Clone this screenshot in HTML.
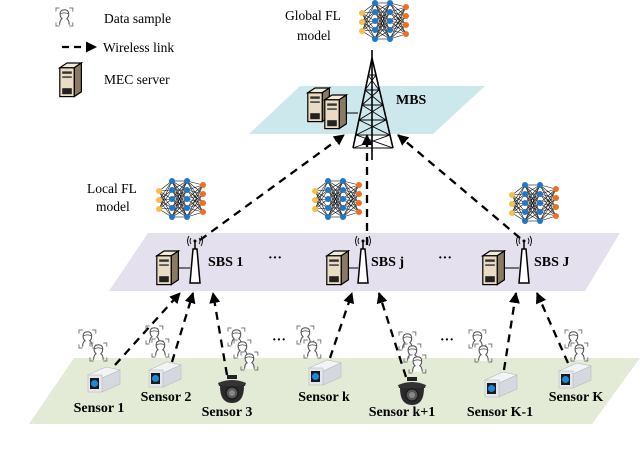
<!DOCTYPE html>
<html><head><meta charset="utf-8"><style>
html,body{margin:0;padding:0;background:#fff}
svg{display:block}
text{font-family:"Liberation Serif",serif}
.b{font-weight:bold;font-size:14px}
.r{font-size:13.5px}
</style></head><body>
<svg width="640" height="459" viewBox="0 0 640 459" xmlns="http://www.w3.org/2000/svg">
<defs>
<marker id="ah" markerWidth="11" markerHeight="11" refX="10" refY="5.5" orient="auto" markerUnits="userSpaceOnUse">
<path d="M0,0 L11,5.5 L0,11 Z" fill="#000"/>
</marker>
<g id="nn">
<g id="nnl" stroke="#111" stroke-width="0.6"></g>
<g id="nnn"></g>
</g>
<g id="srv0">
<path d="M4,4 L10,0 L22,0 L16,4 Z" fill="#f3ead8" stroke="#000" stroke-width="1"/>
<path d="M16,4 L22,0 L22,24 L16,28 Z" fill="#8a7a62" stroke="#000" stroke-width="1"/>
<rect x="4" y="4" width="12" height="24" fill="#e9dcc2" stroke="#000" stroke-width="1"/>
<rect x="6" y="7" width="8" height="2" fill="#333"/>
<rect x="6" y="11" width="8" height="1.5" fill="#555"/>
<rect x="6" y="21" width="8" height="5" fill="#222"/>
</g>
<g id="srv"><use href="#srv0" transform="scale(1.2)"/></g>
<g id="ant">
<path d="M5,12 L9,12 L12,46 L2,46 Z" fill="#fff" stroke="#000" stroke-width="1.5"/>
<line x1="7" y1="4" x2="7" y2="12" stroke="#000" stroke-width="1.5"/>
<circle cx="7" cy="4" r="1.5" fill="#000"/>
<path d="M3,1 Q1,4 3,7 M11,1 Q13,4 11,7 M1,-1 Q-2,4 1,9 M13,-1 Q16,4 13,9" fill="none" stroke="#000" stroke-width="0.9"/>
</g>
<g id="face0">
<path d="M0,3 V0 H3 M11,0 H14 V3 M14,12 V15 H11 M3,15 H0 V12" fill="none" stroke="#777" stroke-width="0.8"/>
<path d="M3,14 Q3,10 5,9 Q3,7 3.5,4 Q4,1.5 7,1.5 Q10,1.5 10.5,4 Q11,7 9,9 Q11,10 11,14" fill="#fff" stroke="#555" stroke-width="0.9"/>
<path d="M3.5,5 Q7,3 10.5,5" fill="none" stroke="#555" stroke-width="0.8"/>
</g>
<g id="face"><use href="#face0" transform="scale(1.2)"/></g>
<g id="box">
<path d="M0,8 L18,0 L32,3 L14,11 Z" fill="#f2f4f7" stroke="#bbb" stroke-width="0.6"/>
<path d="M14,11 L32,3 L32,17 L14,25 Z" fill="#d4d8df" stroke="#bbb" stroke-width="0.6"/>
<rect x="0" y="8" width="14" height="17" fill="#e4e7ec" stroke="#bbb" stroke-width="0.6"/>
<rect x="2" y="11" width="9" height="11" fill="#1a1a1a"/>
<circle cx="6.5" cy="16.5" r="3.5" fill="#1e88d8"/>
</g>
<g id="dome">
<rect x="10" y="0" width="10" height="4" fill="#222"/>
<path d="M1,8 Q15,2 29,8 L28,11 L2,11 Z" fill="#333"/>
<path d="M3,11 Q3,28 15,28 Q27,28 27,11 Z" fill="#2a2a2a"/>
<circle cx="15" cy="18" r="6" fill="#555" stroke="#111"/>
<circle cx="15" cy="18" r="3" fill="#888"/>
</g>
</defs>

<polygon points="300,86 485,86 433,134 249,134" fill="#cde8ec"/>
<polygon points="148,233 620,233 585,291 109,291" fill="#e5e0ee"/>
<polygon points="74,358 640,358 592,424 29,424" fill="#e3ead5"/>

<use href="#face" x="56" y="8"/>
<text class="r" x="104" y="23">Data sample</text>
<line x1="62" y1="47" x2="96" y2="47" stroke="#000" stroke-width="2.2" stroke-dasharray="7,5" marker-end="url(#ah)"/>
<text class="r" x="103" y="52">Wireless link</text>
<use href="#srv" x="55" y="63"/>
<text class="r" x="104" y="84">MEC server</text>

<text class="r" x="285" y="20">Global FL</text>
<text class="r" x="297" y="40">model</text>
<use href="#nn" x="358" y="0"/>

<g stroke="#000" stroke-width="1.6" fill="none">
<line x1="372" y1="50" x2="372" y2="160"/>
<line x1="372" y1="58" x2="353" y2="148"/>
<line x1="372" y1="58" x2="393" y2="148"/>
<path d="M368,75 L376,75 M365,90 L379,90 M362,105 L383,105 M359,120 L386,120 M356,135 L390,135 M353,148 L393,148" stroke-width="1"/>
<path d="M368,75 L379,90 L362,105 L386,120 L356,135 M376,75 L365,90 L383,105 L359,120 L390,135" stroke-width="0.9"/>
<path d="M356,135 L393,148 M390,135 L353,148" stroke-width="0.9"/>
</g>
<use href="#srv" x="303" y="88"/>
<use href="#srv" x="320" y="95"/>
<line x1="346" y1="113" x2="358" y2="113" stroke="#000"/>
<text class="b" x="396" y="104">MBS</text>

<text class="r" x="87" y="193">Local FL</text>
<text class="r" x="96" y="211">model</text>
<use href="#nn" x="155" y="178"/>
<use href="#nn" x="311" y="178"/>
<use href="#nn" x="508" y="182"/>

<g stroke="#000" stroke-width="2.3" stroke-dasharray="8,6" marker-end="url(#ah)" fill="none">
<line x1="200" y1="240" x2="344" y2="135"/>
<line x1="367" y1="245" x2="367" y2="135"/>
<line x1="520" y1="238" x2="398" y2="135"/>
</g>

<use href="#srv" x="152" y="251"/>
<line x1="178" y1="268" x2="190" y2="268" stroke="#000"/>
<use href="#ant" x="188" y="237"/>
<text class="b" x="208" y="266">SBS 1</text>
<text class="b" x="268" y="262">···</text>
<use href="#srv" x="322" y="251"/>
<line x1="348" y1="268" x2="358" y2="268" stroke="#000"/>
<use href="#ant" x="356" y="237"/>
<text class="b" x="371" y="266">SBS j</text>
<text class="b" x="438" y="262">···</text>
<use href="#srv" x="478" y="251"/>
<line x1="504" y1="268" x2="519" y2="268" stroke="#000"/>
<use href="#ant" x="517" y="237"/>
<text class="b" x="534" y="266">SBS J</text>

<g stroke="#000" stroke-width="2.3" stroke-dasharray="8,6" marker-end="url(#ah)" fill="none">
<line x1="115" y1="365" x2="180" y2="293"/>
<line x1="172" y1="362" x2="193" y2="293"/>
<line x1="227" y1="375" x2="213" y2="293"/>
<line x1="330" y1="358" x2="352" y2="293"/>
<line x1="406" y1="377" x2="379" y2="293"/>
<line x1="504" y1="370" x2="516" y2="293"/>
<line x1="568" y1="363" x2="537" y2="293"/>
</g>

<use href="#face" x="79" y="330"/><use href="#face" x="90" y="343"/>
<use href="#face" x="146" y="326"/><use href="#face" x="152" y="339"/>
<use href="#face" x="228" y="328"/><use href="#face" x="234" y="340"/><use href="#face" x="241" y="352"/>
<use href="#face" x="297" y="326"/><use href="#face" x="304" y="340"/>
<use href="#face" x="399" y="332"/><use href="#face" x="404" y="344"/><use href="#face" x="409" y="355"/>
<use href="#face" x="469" y="330"/><use href="#face" x="475" y="344"/>
<use href="#face" x="565" y="330"/><use href="#face" x="571" y="343"/>
<text class="b" x="272" y="344">···</text>
<text class="b" x="440" y="344">···</text>

<use href="#box" x="88" y="367"/>
<use href="#box" x="149" y="362"/>
<use href="#dome" x="217" y="375"/>
<use href="#box" x="309" y="360"/>
<use href="#dome" x="397" y="377"/>
<use href="#box" x="485" y="372"/>
<use href="#box" x="559" y="363"/>
<g text-anchor="middle">
<text class="b" x="99" y="412">Sensor 1</text>
<text class="b" x="166" y="401">Sensor 2</text>
<text class="b" x="227" y="416">Sensor 3</text>
<text class="b" x="324" y="401">Sensor k</text>
<text class="b" x="402" y="416">Sensor k+1</text>
<text class="b" x="500" y="416">Sensor K-1</text>
<text class="b" x="576" y="401">Sensor K</text>
</g>
</svg>
<script>
(function(){
var cols=[{x:4,ys:[13,22,31],c:"#f5c04a"},{x:17,ys:[3,12,21,30,39],c:"#1f77c8"},{x:32,ys:[3,12,21,30,39],c:"#1f77c8"},{x:48,ys:[7,16,25,34],c:"#f07020"}];
var L=document.getElementById("nnl"),N=document.getElementById("nnn"),ns="http://www.w3.org/2000/svg";
for(var i=0;i<3;i++){var a=cols[i],b=cols[i+1];a.ys.forEach(function(y1){b.ys.forEach(function(y2){var l=document.createElementNS(ns,"line");l.setAttribute("x1",a.x);l.setAttribute("y1",y1);l.setAttribute("x2",b.x);l.setAttribute("y2",y2);L.appendChild(l);});});}
cols.forEach(function(c){c.ys.forEach(function(y){var e=document.createElementNS(ns,"circle");e.setAttribute("cx",c.x);e.setAttribute("cy",y);e.setAttribute("r",3);e.setAttribute("fill",c.c);N.appendChild(e);});});
})();
</script>
</body></html>
